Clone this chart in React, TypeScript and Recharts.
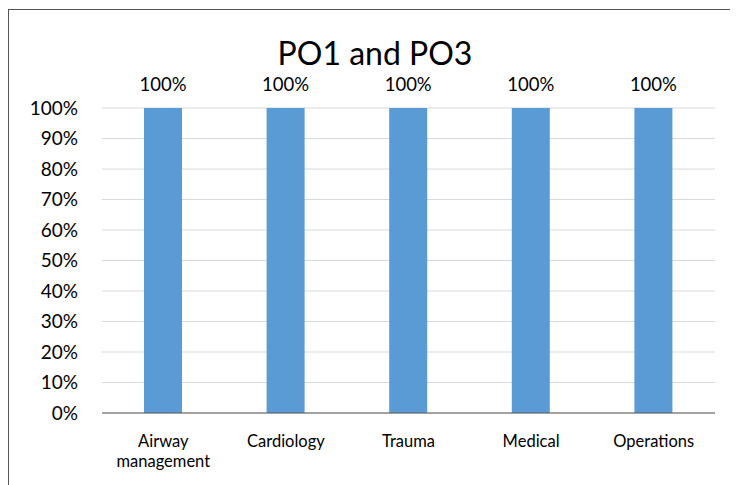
import { BarChart, Bar, XAxis, YAxis, CartesianGrid, LabelList, Text } from "recharts";

const CATEGORIES = ["Airway management", "Cardiology", "Trauma", "Medical", "Operations"];
const SCORES = [1, 1, 1, 1, 1];
const Y_TICKS = [0, 0.1, 0.2, 0.3, 0.4, 0.5, 0.6, 0.7, 0.8, 0.9, 1];

const data = CATEGORIES.map((name, i) => ({ name, score: SCORES[i] }));

const FONT = "Lato, 'Liberation Sans', sans-serif";
const pct = (v: number) => `${Math.round(v * 100)}%`;

// category labels wrap like the original (two lines for long names)
function CategoryTick(props: any) {
  const { x, y, payload } = props;
  return (
    <Text
      x={x}
      y={y + 14}
      width={110}
      textAnchor="middle"
      verticalAnchor="start"
      lineHeight={20}
      fontSize={16.5}
      fontFamily={FONT}
      fill="#000"
    >
      {payload.value}
    </Text>
  );
}

export default function App() {
  return (
    <div
      style={{
        position: "relative",
        width: 750,
        height: 490,
        marginTop: 1,
        border: "1px solid #555",
        background: "#fff",
        fontFamily: FONT,
      }}
    >
      <div
        style={{
          position: "absolute",
          top: 30,
          left: 0,
          width: 732,
          textAlign: "center",
          fontSize: 32,
          lineHeight: "26px",
          color: "#000",
        }}
      >
        PO1 and PO3
      </div>
      <BarChart
        width={732}
        height={480}
        data={data}
        margin={{ top: 98, right: 26, bottom: 17, left: 0 }}
        barCategoryGap={0}
      >
        <CartesianGrid vertical={false} stroke="#d9d9d9" />
        <XAxis
          dataKey="name"
          height={60}
          tickLine={false}
          axisLine={{ stroke: "#595959" }}
          tick={<CategoryTick />}
          interval={0}
        />
        <YAxis
          width={93}
          domain={[0, 1]}
          ticks={Y_TICKS}
          tickFormatter={pct}
          axisLine={false}
          tickLine={false}
          tickMargin={18}
          tick={{ fill: "#000", fontSize: 19, fontFamily: FONT }}
        />
        <Bar dataKey="score" fill="#5b9bd5" barSize={38} isAnimationActive={false}>
          <LabelList
            dataKey="score"
            position="top"
            offset={17}
            formatter={(v: any) => pct(Number(v))}
            fill="#000"
            fontSize={18.5}
            fontFamily={FONT}
          />
        </Bar>
      </BarChart>
    </div>
  );
}
